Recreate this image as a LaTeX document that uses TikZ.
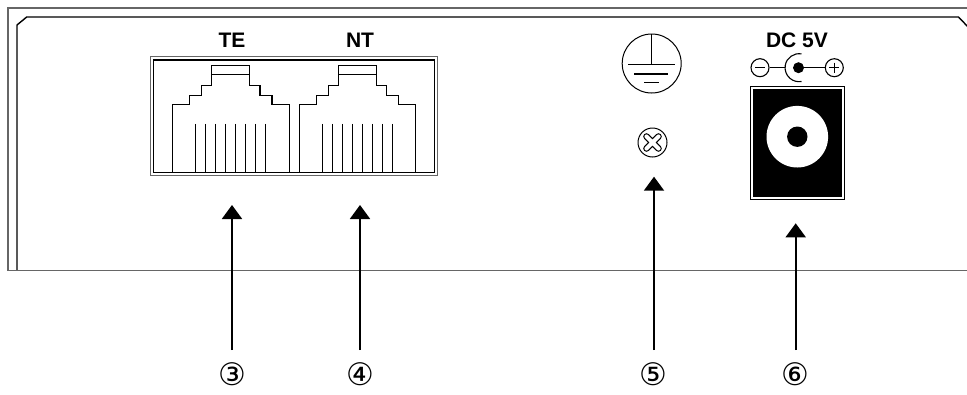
\documentclass[tikz,border=0pt]{standalone}
\usepackage{fontspec}
\usetikzlibrary{arrows.meta}
\newfontfamily\labfont{Liberation Sans}
\newfontfamily\numfont{DejaVu Sans}
\tikzset{
  frameouter/.style={draw=black!60, line width=1.4pt},
  frameinner/.style={draw=black, line width=1.4pt},
  jackline/.style={draw=black, line width=1.1pt},
  thinline/.style={draw=black, line width=1.1pt},
  toplabel/.style={font=\labfont\bfseries\fontsize{21}{23}\selectfont, inner sep=0pt},
  numlabel/.style={font=\numfont\fontsize{31}{33}\selectfont, inner sep=0pt},
  callout/.style={draw=black, line width=2pt, -{Triangle[width=20pt,length=14pt]}},
  rjjack/.pic={
    \draw[jackline] (-58.4,0) -- (-58.4,-66.7) -- (-41.3,-66.7) -- (-41.3,-76) -- (-29.3,-76) -- (-29.3,-86) -- (-19.2,-86) -- (-19.2,-106)
      -- (19.2,-106) -- (19.2,-86) -- (29.3,-86) -- (29.3,-76) -- (41.3,-76) -- (41.3,-66.7) -- (58.4,-66.7) -- (58.4,0);
    \draw[jackline] (-19.2,-96.7) -- (19.2,-96.7);
    \foreach \px in {-35,-25,...,35} { \draw[jackline] (\px,-47.7) -- (\px,0); }
  }
}
\begin{document}
\begin{tikzpicture}[x=1pt,y=-1pt]
\useasboundingbox (0,0) rectangle (967,394);
\clip (0,0) rectangle (967,394);
% housing frame
\draw[frameouter] (8,270.5) -- (8,8) -- (968,8);
\draw[frameinner] (17,270.5) -- (17,25) -- (26.7,17) -- (958.5,17) -- (970,29);
\draw[frameouter] (7.3,270.5) -- (968,270.5);
% port block
\draw[draw=black!60, line width=1pt] (150.7,56.7) rectangle (437,175.7);
\draw[draw=black, line width=1.1pt] (153.5,60) rectangle (434.5,172.5);
\pic at (230.7,171.5) {rjjack};
\pic at (357.5,171.5) {rjjack};
\node[toplabel] (te) at (232,40) {TE};
\node[toplabel] (nt) at (360,40) {NT};
% ground symbol
\node[circle, draw, line width=1pt, minimum size=59pt, inner sep=0pt] (gnd) at (651.7,63.5) {};
\draw[thinline] (gnd.north) -- (651.7,64.3);
\draw[thinline] (628,64.3) -- (675,64.3);
\draw[thinline] (634,74) -- (668,74);
\draw[thinline] (644,82.7) -- (659,82.7);
% screw
\node[circle, draw, line width=1pt, minimum size=29pt, inner sep=0pt] (screw) at (652.5,142.5) {};
\draw[line width=6.6pt, line cap=round] (646.5,136.5) -- (658.5,148.5) (658.5,136.5) -- (646.5,148.5);
\draw[white, line width=4.2pt, line cap=round] (646.5,136.5) -- (658.5,148.5) (658.5,136.5) -- (646.5,148.5);
% DC label and polarity
\node[toplabel] (dc) at (797,40) {DC 5V};
\node[circle, draw, line width=1.1pt, minimum size=18pt, inner sep=0pt] (minus) at (760,67.7) {};
\draw[thinline] (755,67.7) -- (765,67.7);
\node[circle, draw, line width=1.1pt, minimum size=18pt, inner sep=0pt] (plus) at (834.3,67.7) {};
\draw[thinline] (829.3,67.7) -- (839.3,67.7) (834.3,62.7) -- (834.3,72.7);
\node[circle, fill=black, minimum size=11pt, inner sep=0pt] (pin) at (798.5,67.7) {};
\draw[thinline] (minus.east) -- (785,67.7);
\draw[thinline] (pin.east) -- (plus.west);
\draw[thinline] (801.5,53.9) arc[start angle=-80, end angle=-280, radius=14];
% DC jack
\draw[draw=black, line width=0.9pt] (750.7,86.7) rectangle (844.3,199);
\fill[black] (753,89) rectangle (842,196.7);
\fill[white] (797.3,136.7) circle[radius=30.8];
\node[circle, fill=black, minimum size=20.4pt, inner sep=0pt] (jackpin) at (797.3,136.7) {};
% callouts
\node[numlabel] (n3) at (232,374) {③};
\node[numlabel] (n4) at (360,374) {④};
\node[numlabel] (n5) at (653,374) {⑤};
\node[numlabel] (n6) at (795.5,374) {⑥};
\coordinate (b3) at (232,350); \coordinate (t3) at (232,205);
\coordinate (b4) at (360,350); \coordinate (t4) at (360,205);
\coordinate (b5) at (654,350); \coordinate (t5) at (654,176.7);
\coordinate (b6) at (795.7,350); \coordinate (t6) at (795.7,223.3);
\draw[callout] (b3) -- (t3);
\draw[callout] (b4) -- (t4);
\draw[callout] (b5) -- (t5);
\draw[callout] (b6) -- (t6);
\end{tikzpicture}
\end{document}
